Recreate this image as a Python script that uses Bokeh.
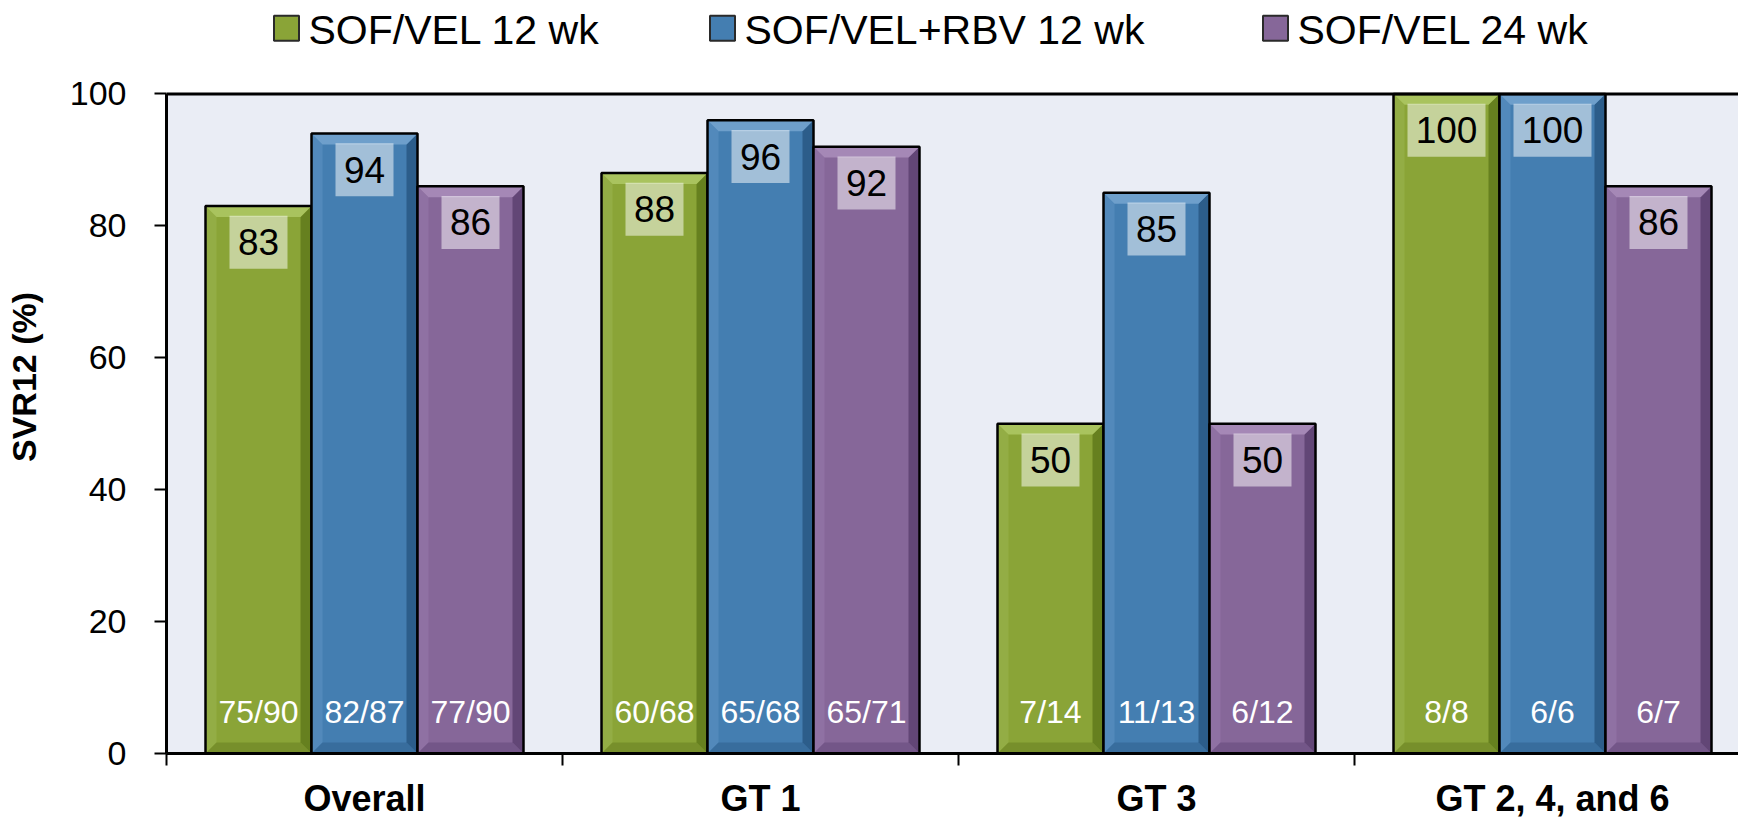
import numpy as np
from bokeh.plotting import figure
from bokeh.models import Range1d, FixedTicker, Span, ColumnDataSource, BoxAnnotation
from bokeh.core.properties import value
from bokeh.embed import file_html
from bokeh.resources import INLINE

# ---------------- data ----------------
categories = ["Overall", "GT 1", "GT 3", "GT 2, 4, and 6"]
series = ["SOF/VEL 12 wk", "SOF/VEL+RBV 12 wk", "SOF/VEL 24 wk"]
svr_sofvel_12 = [83, 88, 50, 100]
svr_sofvel_rbv_12 = [94, 96, 85, 100]
svr_sofvel_24 = [86, 92, 50, 86]
n_sofvel_12 = ["75/90", "60/68", "7/14", "8/8"]
n_sofvel_rbv_12 = ["82/87", "65/68", "11/13", "6/6"]
n_sofvel_24 = ["77/90", "65/71", "6/12", "6/7"]
y_ticks = [0, 20, 40, 60, 80, 100]
y_title = "SVR12 (%)"

values = [svr_sofvel_12, svr_sofvel_rbv_12, svr_sofvel_24]
counts = [n_sofvel_12, n_sofvel_rbv_12, n_sofvel_24]

# ---------------- style / layout ----------------
face_col = ["#8aa437", "#447eb1", "#866799"]
top_col = ["#a9c35e", "#6e9fcb", "#a588b6"]
left_col = ["#93ad45", "#5289bb", "#8f71a3"]
right_col = ["#66801f", "#2c5d8a", "#624676"]
bot_col = ["#778f2b", "#386d9d", "#735688"]

FONT = "Liberation Sans"
W, H = 1738, 821
LEFT = 166
PX_PER_UNIT = 6.64          # pixels per percentage point
GROUP_PX = 396.0            # pixels per category group
X_END = (W - LEFT) / GROUP_PX
Y_END = 100 + 94 / PX_PER_UNIT

p = figure(width=W, height=H, x_range=Range1d(0, X_END), y_range=Range1d(0, Y_END),
           output_backend="svg", toolbar_location=None,
           min_border_left=LEFT, min_border_right=0, min_border_top=0, min_border_bottom=60)
p.background_fill_color = "white"
p.border_fill_color = "white"
p.outline_line_color = None
p.xgrid.visible = False
p.ygrid.visible = False

# plot-area background (0..100 only)
p.add_layout(BoxAnnotation(bottom=0, top=100, fill_color="#eaedf5", fill_alpha=1.0,
                           line_color=None, level="underlay"))

bw = 106.0 / GROUP_PX          # bar width in group units
bx = 11.0 / GROUP_PX           # bevel size (x, data units)
by = 11.0 / PX_PER_UNIT        # bevel size (y, data units)
lab_dy = 36.5 / PX_PER_UNIT
cnt_y = 42.0 / PX_PER_UNIT

for k in range(3):
    vals = values[k]
    xc = np.arange(len(categories)) + 0.5 + (k - 1) * bw
    left = xc - bw / 2
    right = xc + bw / 2
    src = ColumnDataSource(dict(left=left, right=right, top=vals, bottom=[0] * len(vals)))
    p.quad(left="left", right="right", top="top", bottom="bottom", source=src,
           fill_color=face_col[k], line_color=None)
    # bevel edges
    top_xs = [[l, r, r - bx, l + bx] for l, r in zip(left, right)]
    top_ys = [[t, t, t - by, t - by] for t in vals]
    left_xs = [[l, l + bx, l + bx, l] for l in left]
    left_ys = [[t, t - by, by, 0] for t in vals]
    right_xs = [[r, r, r - bx, r - bx] for r in right]
    right_ys = [[t, 0, by, t - by] for t in vals]
    bot_xs = [[l, r, r - bx, l + bx] for l, r in zip(left, right)]
    bot_ys = [[0, 0, by, by] for _ in vals]
    p.patches(left_xs, left_ys, fill_color=left_col[k], line_color=None)
    p.patches(bot_xs, bot_ys, fill_color=bot_col[k], line_color=None)
    p.patches(right_xs, right_ys, fill_color=right_col[k], line_color=None)
    p.patches(top_xs, top_ys, fill_color=top_col[k], line_color=None)
    p.quad(left="left", right="right", top="top", bottom="bottom", source=src,
           fill_color=None, line_color="black", line_width=2.5)

    # value labels with translucent box
    txt = [str(v) for v in vals]
    ly = [v - lab_dy for v in vals]
    lsrc = ColumnDataSource(dict(x=xc, y=ly, text=txt, w=[20 * len(t) + 18 for t in txt]))
    p.rect(x="x", y="y", width="w", height=53, width_units="screen", height_units="screen",
           source=lsrc, fill_color="white", fill_alpha=0.5, line_color=None)
    p.text(x="x", y="y", text="text", source=lsrc, text_font=value(FONT), text_font_size="37px",
           text_align="center", text_baseline="middle", text_color="black")

    # counts at bottom
    csrc = ColumnDataSource(dict(x=xc, y=[cnt_y] * len(vals), text=counts[k]))
    p.text(x="x", y="y", text="text", source=csrc, text_font=value(FONT), text_font_size="32px",
           text_align="center", text_baseline="middle", text_color="white")

# top border line of plot area
p.add_layout(Span(location=100, dimension="width", line_color="black", line_width=3))

# legend (drawn above the plot area)
leg_marker_x = [120 / GROUP_PX, 556 / GROUP_PX, 1109 / GROUP_PX]
leg_y = (758 - 28) / PX_PER_UNIT
leg_text_dx = 22 / GROUP_PX
lgsrc = ColumnDataSource(dict(x=leg_marker_x, y=[leg_y] * 3, c=face_col,
                              tx=[x + leg_text_dx for x in leg_marker_x], text=series))
p.rect(x="x", y="y", width=25, height=25, width_units="screen", height_units="screen",
       source=lgsrc, fill_color="c", line_color="#2a2a2a", line_width=2)
p.text(x="tx", y="y", text="text", source=lgsrc, text_font=value(FONT), text_font_size="41px",
       text_align="left", text_baseline="middle", text_color="black", y_offset=2)

# y axis
yax = p.yaxis[0]
yax.ticker = FixedTicker(ticks=y_ticks)
yax.bounds = (0, 100)
yax.axis_line_width = 3
yax.axis_line_color = "black"
yax.major_tick_out = 12
yax.major_tick_in = 0
yax.major_tick_line_width = 2
yax.minor_tick_out = 0
yax.minor_tick_in = 0
yax.major_label_text_font = FONT
yax.major_label_text_font_size = "34px"
yax.major_label_text_color = "black"
yax.major_label_standoff = 28
yax.axis_label = y_title
yax.axis_label_text_font = FONT
yax.axis_label_text_font_size = "34px"
yax.axis_label_text_font_style = "bold"
yax.axis_label_text_color = "black"
yax.axis_label_standoff = 24

# x axis
xax = p.xaxis[0]
xax.ticker = FixedTicker(ticks=[i + 0.5 for i in range(len(categories))],
                         minor_ticks=list(range(len(categories) + 1)))
xax.major_label_overrides = {i + 0.5: c for i, c in enumerate(categories)}
xax.axis_line_width = 3
xax.axis_line_color = "black"
xax.major_tick_out = 0
xax.major_tick_in = 0
xax.minor_tick_out = 12
xax.minor_tick_in = 0
xax.minor_tick_line_width = 2
xax.minor_tick_line_color = "black"
xax.major_label_text_font = FONT
xax.major_label_text_font_style = "bold"
xax.major_label_text_font_size = "36px"
xax.major_label_text_color = "black"
xax.major_label_standoff = 12

open("out.html", "w").write(file_html(p, INLINE))
